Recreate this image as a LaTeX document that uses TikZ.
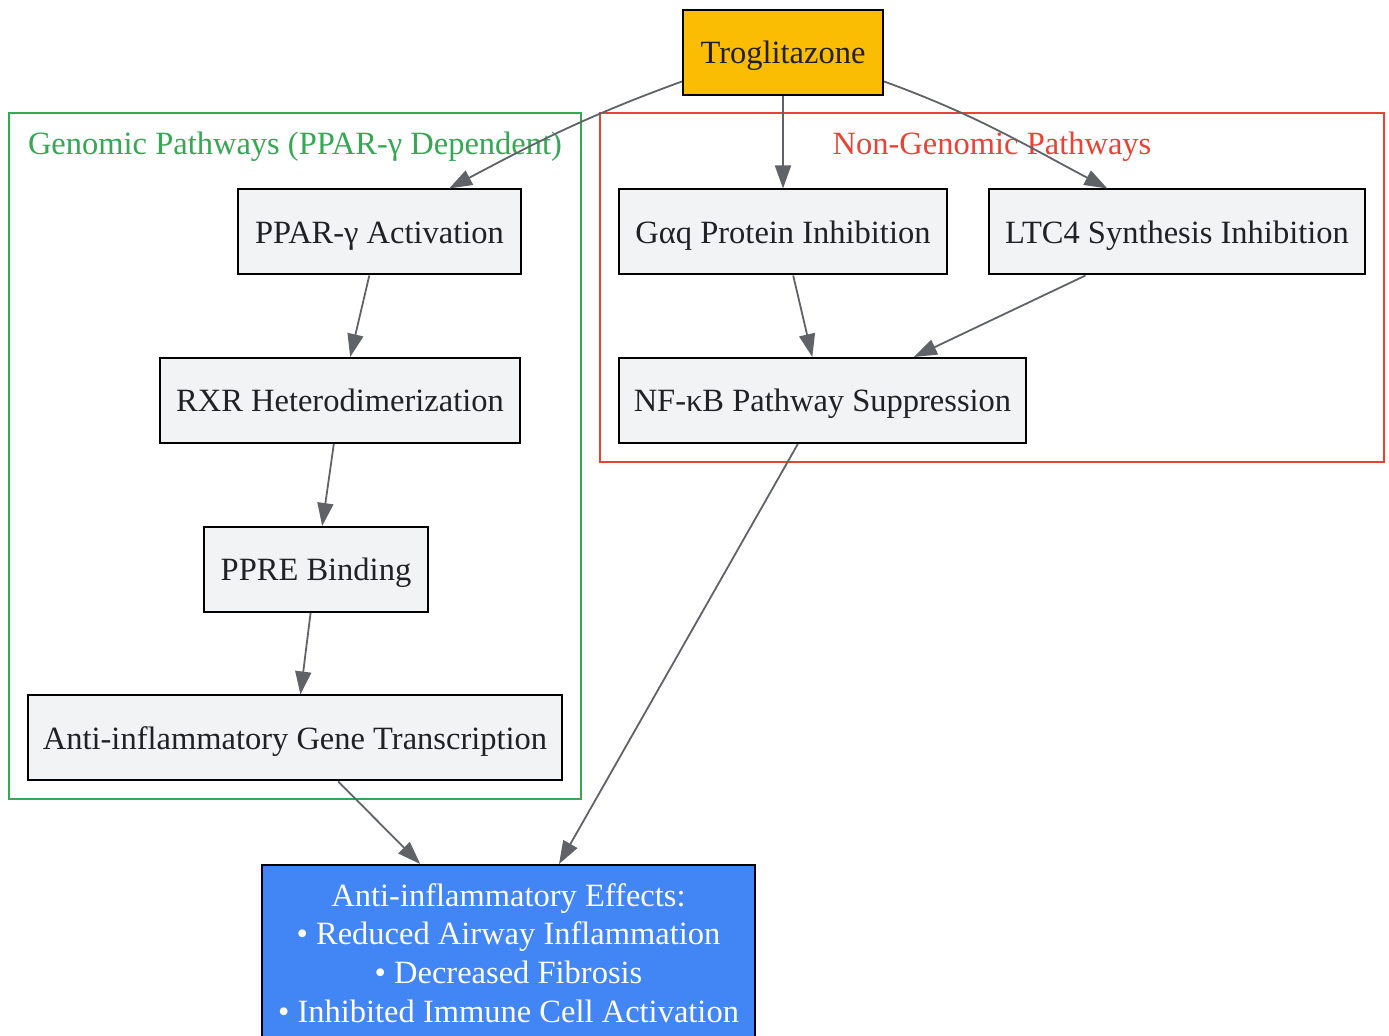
\documentclass[tikz,border=0pt]{standalone}
\usepackage{fontspec}
\setmainfont{Liberation Serif}
\usepackage{xcolor}
\usepackage{tikz}
\usetikzlibrary{arrows.meta}
\definecolor{boxfill}{HTML}{F1F3F4}
\definecolor{boxtext}{HTML}{202124}
\definecolor{edgegray}{HTML}{5F6368}
\definecolor{drugyellow}{HTML}{FBBC04}
\definecolor{effectblue}{HTML}{4285F4}
\definecolor{genogreen}{HTML}{34A853}
\definecolor{nongenored}{HTML}{EA4335}
\tikzset{basebox/.style={draw=black, line width=1pt, fill=boxfill, text=boxtext,
  inner sep=0pt, minimum height=42.5pt, font=\fontsize{16.25}{19.4}\selectfont}}
\tikzset{stepbox/.style={basebox, text height=15pt, text depth=3.5pt}}
\tikzset{edge/.style={draw=edgegray, line width=0.9pt,
  -{Triangle[length=11.5pt, width=8pt]}}}
\tikzset{cluster/.style={line width=0.9pt}}

\begin{document}
\begin{tikzpicture}[x=0.5pt, y=-0.5pt]

\useasboundingbox (0,0) rectangle (1389,1036);

\draw[cluster, genogreen] (9,113) rectangle (581,799);
\node[text=genogreen, font=\fontsize{16.25}{19.4}\selectfont] (genolabel) at (295,147) {Genomic Pathways (PPAR-γ Dependent)};
\draw[cluster, nongenored] (600,113) rectangle (1384,462);
\node[text=nongenored, font=\fontsize{16.25}{19.4}\selectfont] (nongenolabel) at (992,147) {Non-Genomic Pathways};

\node[stepbox, fill=drugyellow, minimum width=100pt] (trog) at (783,52.5) {Troglitazone};

\node[stepbox, minimum width=141.5pt] (ppar) at (379.5,232) {PPAR-γ Activation};
\node[stepbox, minimum width=180pt] (rxr) at (340,400.5) {RXR Heterodimerization};
\node[stepbox, minimum width=112pt] (ppre) at (316,569.5) {PPRE Binding};
\node[stepbox, minimum width=267pt] (gene) at (295,738) {Anti-inflammatory Gene Transcription};

\node[stepbox, minimum width=164pt] (gaq) at (783,232) {Gαq Protein Inhibition};
\node[stepbox, minimum width=188pt] (ltc) at (1177,232) {LTC4 Synthesis Inhibition};
\node[stepbox, minimum width=203.5pt] (nfkb) at (822.5,400.5) {NF-κB Pathway Suppression};

\node[basebox, fill=effectblue, text=white, minimum width=246.5pt, minimum height=88pt, align=center] (effects) at (508.5,953)
  {Anti-inflammatory Effects:\\ • Reduced Airway Inflammation\\ • Decreased Fibrosis\\ • Inhibited Immune Cell Activation};

\draw[edge] (trog.196) to[out=200, in=28] (ppar.32);
\draw[edge] (trog) -- (gaq);
\draw[edge] (trog.344) to[out=-20, in=152] (ltc.148);

\draw[edge] (ppar) -- (rxr);
\draw[edge] (rxr) -- (ppre);
\draw[edge] (ppre) -- (gene);
\draw[edge] (gaq) -- (nfkb);
\draw[edge] (ltc) -- (nfkb);

\draw[edge] (gene) -- (effects);
\draw[edge] (nfkb) -- (effects);

\end{tikzpicture}
\end{document}
